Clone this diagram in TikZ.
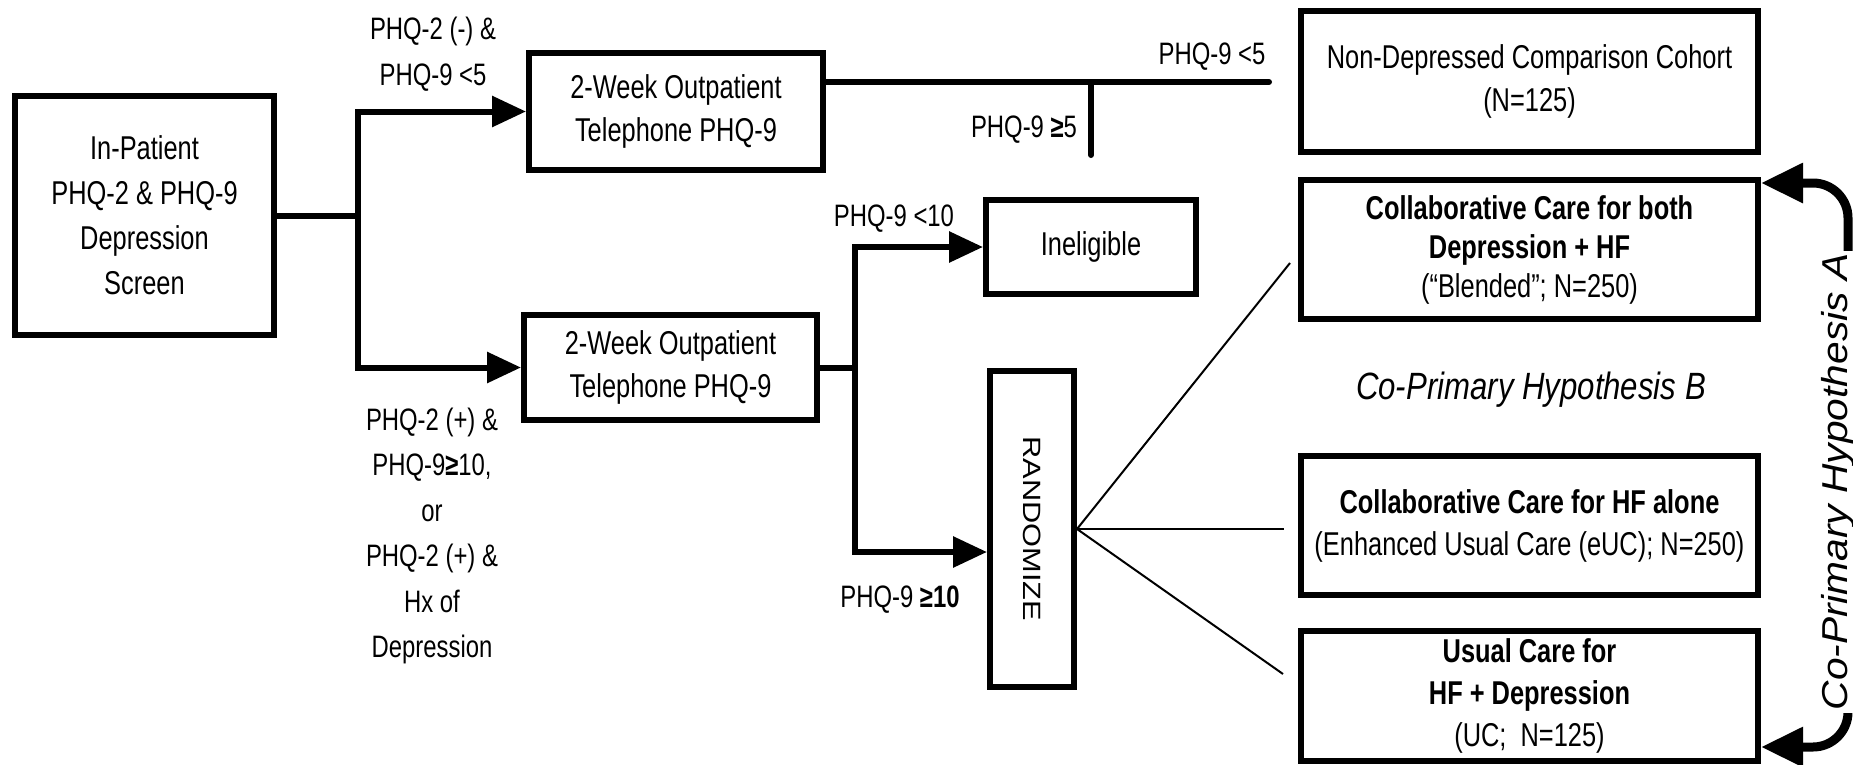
\documentclass[tikz,border=0pt]{standalone}
\usepackage{fontspec}
\setmainfont{Liberation Sans}[FakeStretch=0.77]
\newfontfamily\hypBfont{Liberation Sans}[FakeStretch=0.82]
\newfontfamily\hypAfont{Liberation Sans}[FakeStretch=1.13]
\newfontfamily\randfont{Liberation Sans}[FakeStretch=1.23]
\usetikzlibrary{arrows.meta}
\begin{document}
\begin{tikzpicture}[x=1pt,y=-1pt,
  box/.style={draw, line width=6pt, inner sep=0pt, align=center, font=\fontsize{33}{43}\selectfont},
  lbl/.style={inner sep=0pt, align=center, font=\fontsize{31}{45.5}\selectfont},
  conn/.style={line width=6pt},
  arr/.style={line width=6pt, -{Triangle[length=34pt,width=30pt]}},
  thinline/.style={line width=2pt},
  bigarr/.style={line width=9pt, {Triangle[length=42pt,width=38pt]}-{Triangle[length=42pt,width=38pt]}, rounded corners=35pt}]
\useasboundingbox (0,0) rectangle (1853,764);

% boxes
\node[box, minimum width=259pt, minimum height=239pt, font=\fontsize{33}{45}\selectfont] (b1) at (144.5,215.5) {In-Patient\\PHQ-2 \& PHQ-9\\Depression\\Screen};
\node[box, minimum width=294pt, minimum height=117pt] (b2) at (676,111.5) {2-Week Outpatient\\Telephone PHQ-9};
\node[box, minimum width=293pt, minimum height=105pt] (b3) at (670.5,367.5) {2-Week Outpatient\\Telephone PHQ-9};
\node[box, minimum width=210pt, minimum height=94pt] (inel) at (1091,247) {Ineligible};
\node[box, minimum width=84pt, minimum height=316pt] (rand) at (1032,529) {};
\node[rotate=-90, inner sep=0pt, font=\randfont\fontsize{25}{25}\selectfont] (randtxt) at (rand.center) {RANDOMIZE};
\node[box, minimum width=457pt, minimum height=141pt] (nondep) at (1529.5,81.5) {Non-Depressed Comparison Cohort\\(N=125)};
\node[box, minimum width=457pt, minimum height=139pt, font=\fontsize{33}{39}\selectfont] (cboth) at (1529.5,249.5) {\textbf{Collaborative Care for both}\\\textbf{Depression + HF}\\(“Blended”; N=250)};
\node[box, minimum width=457pt, minimum height=139pt, font=\fontsize{33}{42}\selectfont] (chf) at (1529.5,525.5) {\textbf{Collaborative Care for HF alone}\\(Enhanced Usual Care (eUC); N=250)};
\node[box, minimum width=457pt, minimum height=130pt, font=\fontsize{33}{42}\selectfont] (uc) at (1529.5,696) {\textbf{Usual Care for}\\\textbf{HF + Depression}\\(UC;~ N=125)};

% labels
\node[lbl] (l1) at (433,54) {PHQ-2 (-) \&\\PHQ-9 <5};
\node[lbl] (l2) at (432,536) {PHQ-2 (+) \&\\PHQ-9\textbf{≥}10,\\or\\PHQ-2 (+) \&\\Hx of\\Depression};
\node[lbl] (l3) at (1212,57) {PHQ-9 <5};
\node[lbl] (l4) at (1024,130) {PHQ-9 \textbf{≥}5};
\node[lbl] (l5) at (894,219) {PHQ-9 <10};
\node[lbl] (l6) at (900,600) {PHQ-9 \textbf{≥10}};
\node[inner sep=0pt, font=\hypBfont\itshape\fontsize{38}{38}\selectfont] (hypB) at (1531,390) {Co-Primary Hypothesis B};

% connectors
\coordinate (j1) at (358,215.5);
\draw[conn] (b1.east) -- (j1);
\draw[arr] (j1) |- (b2.west);
\draw[arr] (j1) |- (b3.west);

\coordinate (e2) at (1269,82);
\coordinate (t1) at (1091,82);
\coordinate (t2) at (1091,155);
\draw[conn, line cap=round] (b2.east |- e2) -- (e2);
\draw[conn, line cap=round] (t1) -- (t2);

\coordinate (j2) at (855,367.5);
\coordinate (r552) at (0,552);
\draw[conn] (b3.east) -- (j2);
\draw[arr] (j2) |- (inel.west);
\draw[arr] (j2) |- (rand.west |- r552);

\coordinate (f1) at (1290,263);
\coordinate (f2) at (1284,529);
\coordinate (f3) at (1283,674);
\draw[thinline] (rand.east) -- (f1);
\draw[thinline] (rand.east) -- (f2);
\draw[thinline] (rand.east) -- (f3);

% hypothesis A arrow
\coordinate (atop) at ([yshift=-6pt]cboth.north east);
\coordinate (abot) at ([yshift=-51pt]uc.east);
\coordinate (rtop) at (1848,183);
\coordinate (rbot) at (1848,747);
\draw[bigarr] (atop) -- (rtop) -- (rbot) -- (abot);
\node[rotate=90, anchor=base, fill=white, inner sep=3pt, font=\hypAfont\itshape\fontsize{36}{36}\selectfont] (hypA) at (1847,482) {Co-Primary Hypothesis A};
\end{tikzpicture}
\end{document}
